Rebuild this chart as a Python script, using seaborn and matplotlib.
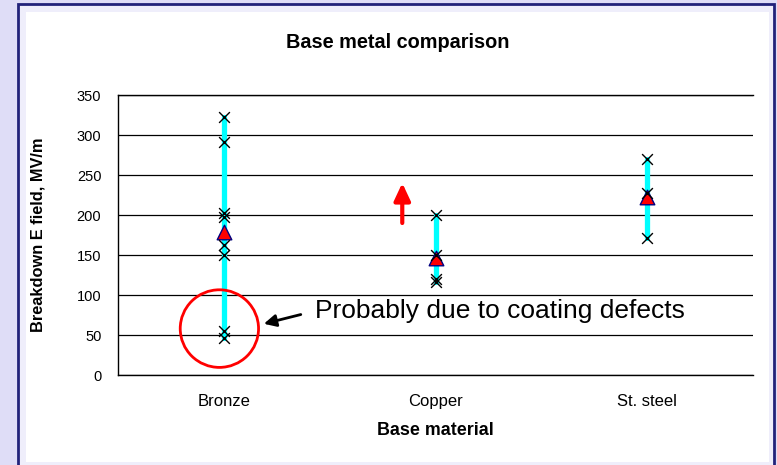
import numpy as np
import pandas as pd
import seaborn as sns
import matplotlib.pyplot as plt
from matplotlib.patches import Rectangle, Ellipse

# values (MV/m)
materials = ["Bronze", "Copper", "St. steel"]
bronze_vals = [323, 291, 203, 197, 162, 150, 55, 46]
copper_vals = [200, 150, 120, 116]
steel_vals = [270, 227, 171]
y_ticks = [0, 50, 100, 150, 200, 250, 300, 350]

df = pd.DataFrame({
    "material": ["Bronze"] * len(bronze_vals) + ["Copper"] * len(copper_vals) + ["St. steel"] * len(steel_vals),
    "value": bronze_vals + copper_vals + steel_vals,
})
means = df.groupby("material", sort=False)["value"].mean().reset_index()

sns.set_style("white")
plt.rcParams["font.family"] = ["Liberation Sans", "DejaVu Sans"]
plt.rcParams["text.color"] = "black"
plt.rcParams["xtick.color"] = "black"
plt.rcParams["ytick.color"] = "black"

W, H = 777, 465
bg = "#DFDDF7"
navy = "#22227A"

fig = plt.figure(figsize=(W / 100, H / 100), dpi=100)
fig.patch.set_facecolor(bg)

# outer frame and white chart panel
fig.patches.append(Rectangle((18 / W, -0.05), (774 - 18) / W, 1.05 - 4.5 / H,
                             transform=fig.transFigure, fc="#EFEEFB", ec=navy, lw=2, zorder=-2))
fig.patches.append(Rectangle((26 / W, 3 / H), (769 - 26) / W, (462 - 12) / H,
                             transform=fig.transFigure, fc="white", ec="none", zorder=-1))

ax = fig.add_axes([118 / W, 90 / H, 635 / W, 280 / H])
ax.set_facecolor("white")

# min-max span per material
sns.lineplot(data=df, x="material", y="value", units="material", estimator=None,
             color="#00FFFF", lw=3.8, legend=False, ax=ax, zorder=2)
# means
sns.scatterplot(data=means, x="material", y="value", marker="^", color="red",
                edgecolor="#000080", s=110, linewidth=1, legend=False, ax=ax, zorder=4)
# individual measurements
sns.scatterplot(data=df, x="material", y="value", marker="x", color="black",
                s=60, linewidth=1, legend=False, ax=ax, zorder=5)

ax.set_xlim(-0.5, 2.5)
ax.set_ylim(0, 350)
ax.set_yticks(y_ticks)
ax.set_xticks([-0.5, 0.5, 1.5, 2.5])
ax.set_xticklabels([])
ax.set_xticks([0, 1, 2], minor=True)
ax.set_xticklabels(materials, minor=True)
ax.tick_params(axis="x", which="major", direction="inout", length=11, width=1, color="black")
ax.tick_params(axis="x", which="minor", length=0, pad=14, labelsize=12)
ax.tick_params(axis="y", direction="out", length=5, width=1, color="black", pad=7, labelsize=10.5)
ax.set_xlabel("")
ax.set_ylabel("")

ax.grid(axis="y", color="black", lw=0.9)
ax.set_axisbelow(True)
for side in ["left", "bottom", "top"]:
    ax.spines[side].set_color("black")
    ax.spines[side].set_linewidth(1)
ax.spines["right"].set_visible(False)

# circle around the low bronze points
ax.add_patch(Ellipse((-0.021, 58), 0.37, 97, fc="none", ec="red", lw=2, zorder=6, clip_on=False))

ax.annotate("Probably due to coating defects", xy=(0.189, 64), xytext=(0.43, 80),
            ha="left", va="center", fontsize=19,
            arrowprops=dict(arrowstyle="-|>", color="black", lw=2, mutation_scale=18,
                            relpos=(0, 0.5), shrinkA=8, shrinkB=0))

# red upward arrow near copper
ax.annotate("", xy=(0.843, 240), xytext=(0.843, 190),
            arrowprops=dict(arrowstyle="-|>,head_width=0.35,head_length=0.75", color="red",
                            lw=3, mutation_scale=14, shrinkA=0, shrinkB=0))

fig.text(398 / W, 1 - 42 / H, "Base metal comparison", ha="center", va="center",
         fontsize=14.3, fontweight="bold")
fig.text(435 / W, 1 - 430 / H, "Base material", ha="center", va="center",
         fontsize=12.9, fontweight="bold")
fig.text(38 / W, 1 - 235 / H, "Breakdown E field, MV/m", ha="center", va="center",
         rotation=90, fontsize=11.8, fontweight="bold")

fig.savefig("out.png", dpi=100, facecolor=fig.get_facecolor())
